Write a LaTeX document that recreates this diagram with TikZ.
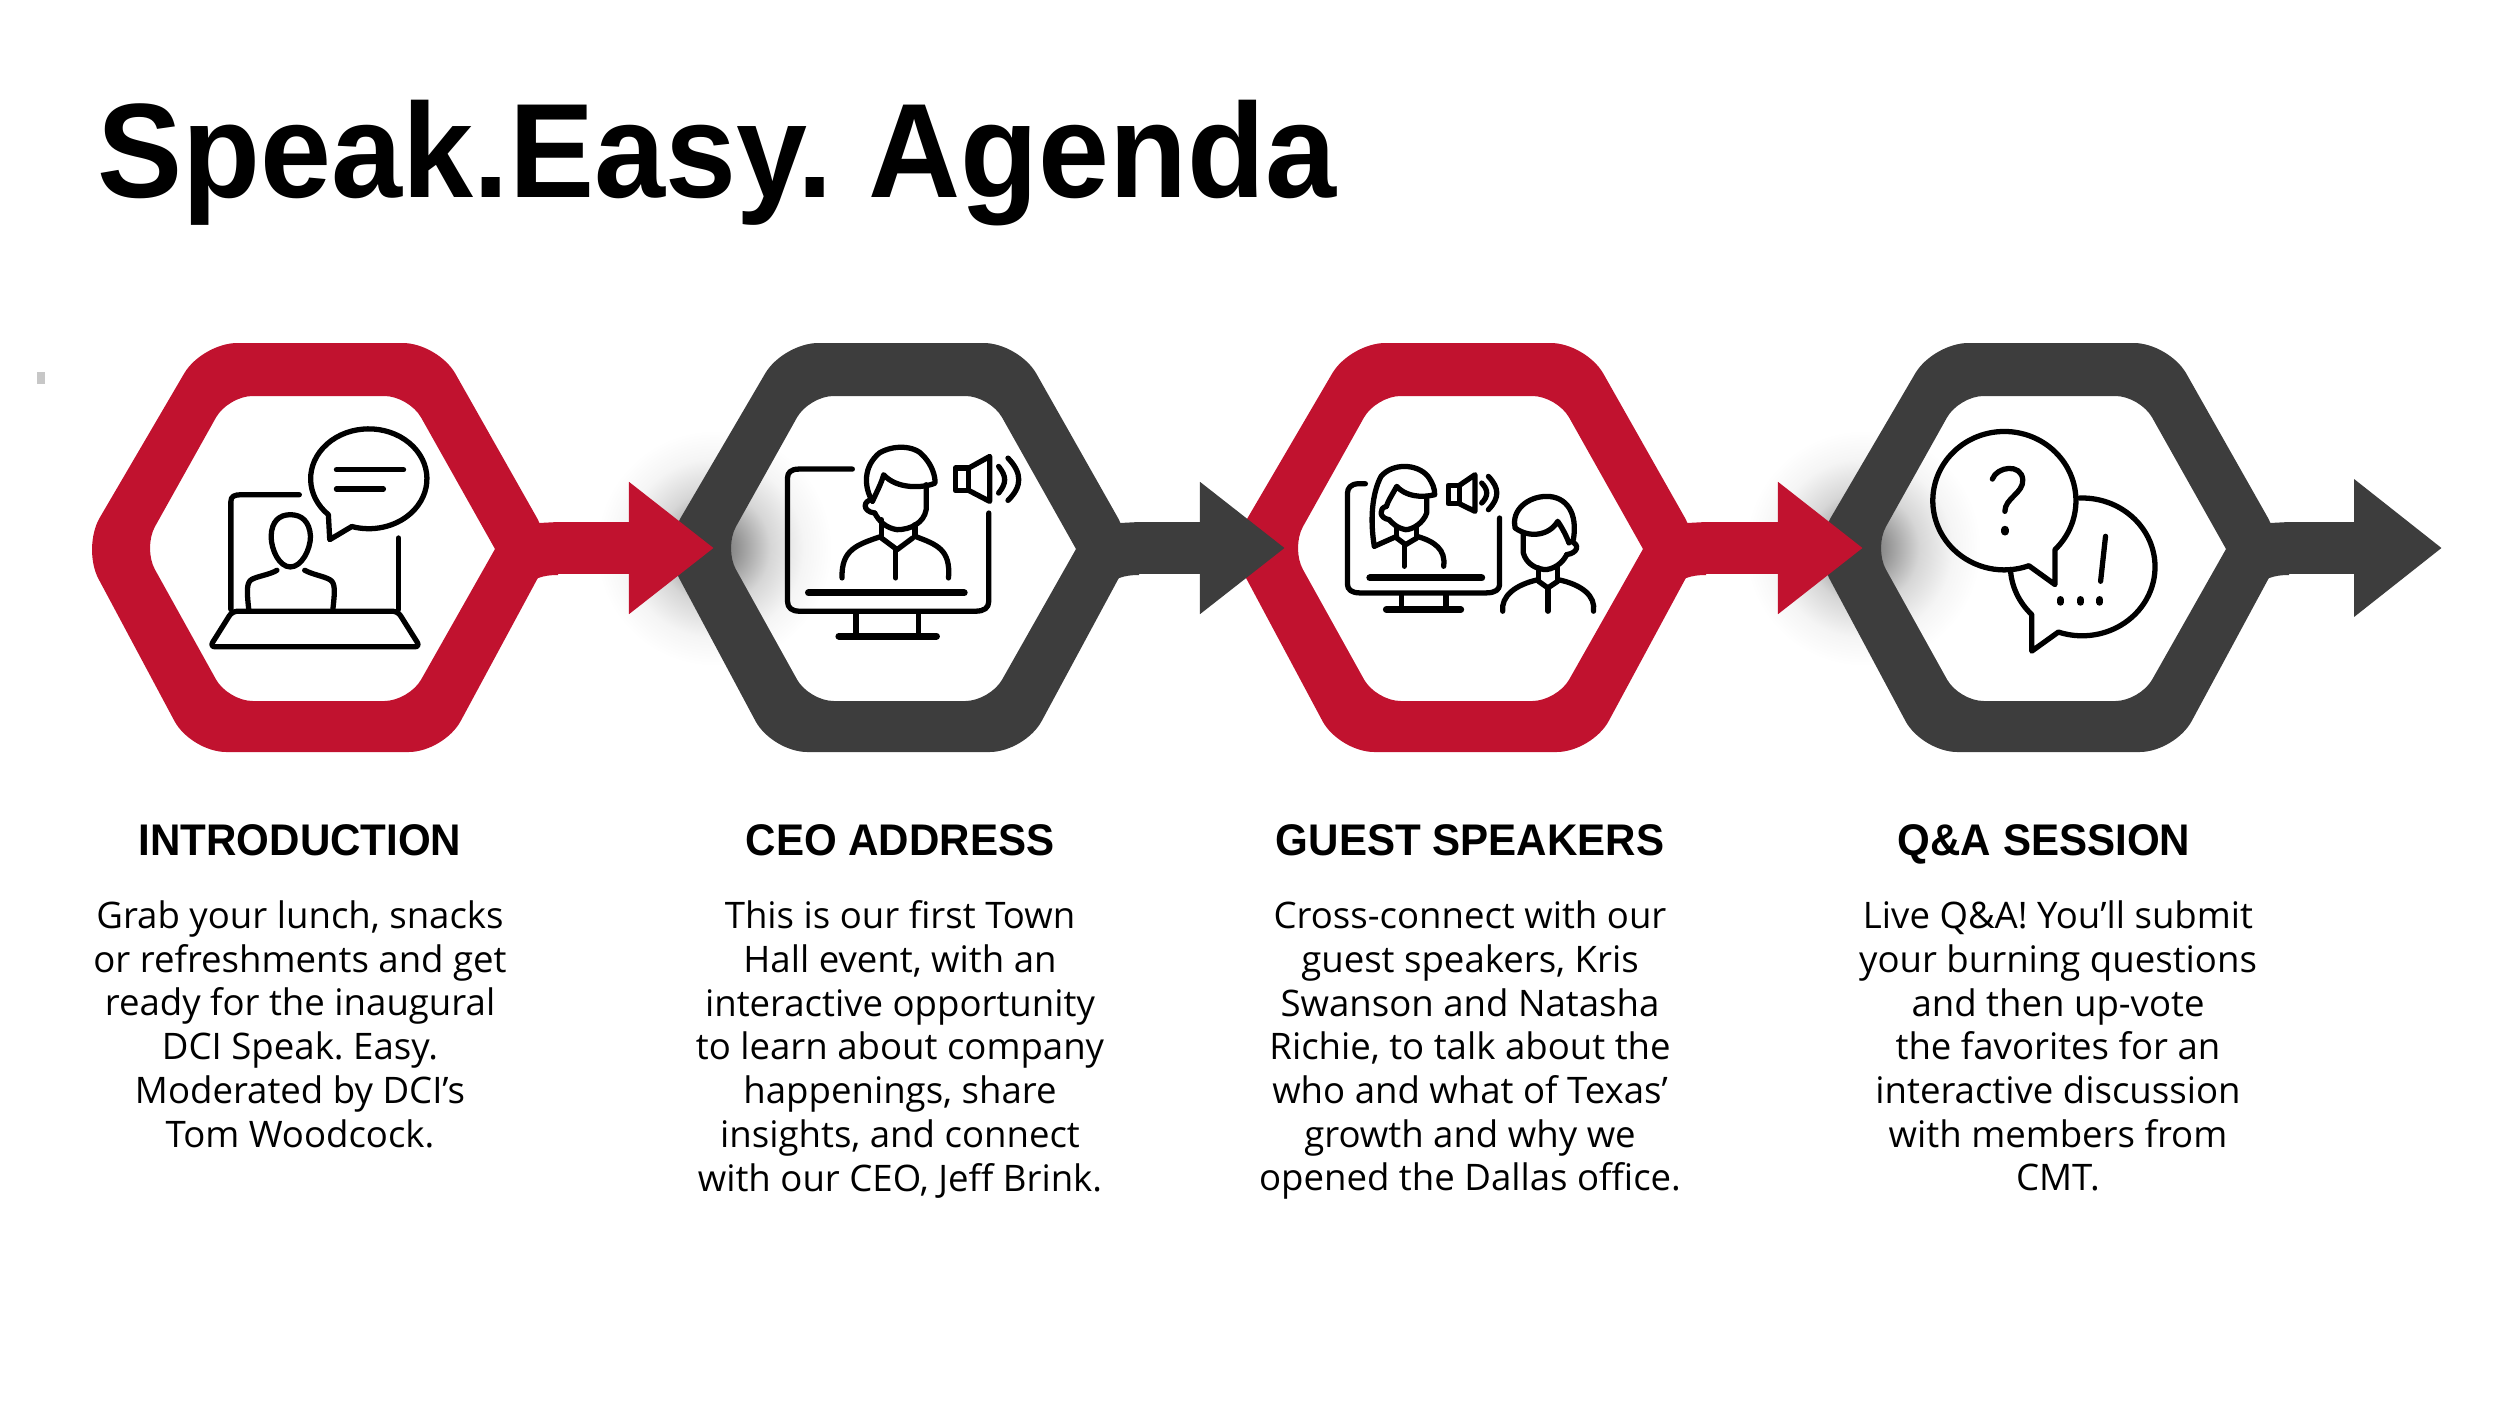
\documentclass[tikz,border=0pt]{standalone}
\usepackage{fontspec}
\usetikzlibrary{arrows.meta}
\newfontfamily\bodyfont{Open Sans}
\newfontfamily\headfont[FakeStretch=0.95]{Liberation Sans}
\definecolor{dcired}{HTML}{C1122F}
\definecolor{dcidark}{HTML}{3D3D3D}
\pgfdeclareradialshading{softglow}{\pgfpoint{0bp}{0bp}}{color(0bp)=(black!58); color(5bp)=(black!42); color(12bp)=(black!16); color(19bp)=(black!4); color(25bp)=(white); color(50bp)=(white)}
\tikzset{
  agenda_title/.style={anchor=base west,inner sep=0pt,font=\frenchspacing\headfont\bfseries\fontsize{38.2}{46}\selectfont},
  agenda_head/.style={anchor=base,inner sep=0pt,font=\headfont\bfseries\fontsize{12.6}{15}\selectfont},
  agenda_text/.style={anchor=north,inner sep=0pt,align=center,font=\frenchspacing\bodyfont\fontsize{10.4}{12.44}\selectfont},
  flow/.style={line width=15pt,-{Triangle[width=36pt,length=24.2pt]}},
  icon/.style={line width=1.5pt,line cap=round,line join=round},
  iconview/.style={shift={(#1,320)},x=0.0044643cm,y=-0.0033333cm}
}
% hexagon ring with the stub of its outgoing arrow
\newcommand{\hexring}[2]{
\begin{scope}[shift={(#1,0)}]
\fill[#2,even odd rule] (320,343) [rounded corners=10pt] -- (438,343) -- (554,548) -- (444,752) -- (191,752) -- (82,548) -- (202,343) -- cycle
 [sharp corners] (318,396) [rounded corners=7pt] -- (409,396) [sharp corners] -- (495,549) [rounded corners=7pt] -- (409,701) -- (228,701) -- (143,548) -- (228,396) -- cycle;
\fill[#2] (524,590) .. controls (532,578) and (543,575) .. (558,575) -- (558,548) -- (515,548) -- cycle;
\fill[#2] (539,523) -- (558,522) -- (558,550) -- (525,550) -- cycle;
\end{scope}
}
\begin{document}
\begin{tikzpicture}[x=0.01cm,y=-0.01cm]
\useasboundingbox (0,0) rectangle (2500,1406);
\fill[black!22] (37,372) rectangle (45,384);

\path (97,197) node(title) [agenda_title] {Speak.Easy. Agenda}
(300,855) node(intro_head) [agenda_head] {INTRODUCTION}
(900,855) node(ceo_head) [agenda_head] {CEO ADDRESS}
(1470,855) node(guest_head) [agenda_head] {GUEST SPEAKERS}
(2044,855) node(qa_head) [agenda_head] {Q\&A SESSION}
(300,900) node(intro_text) [agenda_text] {Grab your lunch, snacks\\or refreshments and get\\ready for the inaugural\\DCI Speak. Easy.\\Moderated by DCI’s\\Tom Woodcock.}
(900,900) node(ceo_text) [agenda_text] {This is our first Town\\Hall event, with an\\interactive opportunity\\to learn about company\\happenings, share\\insights, and connect\\with our CEO, Jeff Brink.}
(1470,900) node(guest_text) [agenda_text] {Cross-connect with our\\guest speakers, Kris\\Swanson and Natasha\\Richie, to talk about the\\who and what of Texas’\\growth and why we\\opened the Dallas office.}
(2058,900) node(qa_text) [agenda_text] {Live Q\&A! You’ll submit\\your burning questions\\and then up-vote\\the favorites for an\\interactive discussion\\with members from\\CMT.};

\coordinate (intro_out) at (556,548);
\coordinate (ceo_in) at (714,548);
\coordinate (ceo_out) at (1137,548);
\coordinate (guest_in) at (1285,548);
\coordinate (guest_out) at (1704,548);
\coordinate (qa_in) at (1863,548);
\coordinate (qa_out) at (2287,548);
\coordinate (finish) at (2442,548);

% soft shadows behind the red tips
\shade[shading=softglow] (ceo_in) circle (118);
\shade[shading=softglow] (qa_in) circle (118);

\hexring{0}{dcired}
\hexring{581}{dcidark}
\hexring{1148}{dcired}
\hexring{1731}{dcidark}

\draw[flow,dcired] (intro_out) -- (ceo_in);
\draw[flow,dcidark] (ceo_out) -- (guest_in);
\draw[flow,dcired] (guest_out) -- (qa_in);
\draw[flow,dcidark,-{Triangle[width=37.5pt,length=25pt]}] (qa_out) -- (finish);

% laptop with speech bubble
\begin{scope}[iconview=60,icon]
\draw (382,870) -- (382,545) .. controls (382,530) and (390,525) .. (405,525) -- (535,525);
\draw (757,655) -- (757,870);
\draw[rounded corners=1.5pt] (385,875) -- (755,875) -- (805,982) -- (335,982) -- cycle;
\draw (600,585) arc[start angle=134,end angle=467,x radius=130,y radius=150] -- (603,660) -- cycle;
\draw (618,450) -- (768,450) (618,508) -- (723,508);
\draw (515,585) .. controls (490,585) and (473,605) .. (472,650) .. controls (472,690) and (490,742) .. (515,742) .. controls (540,742) and (560,690) .. (560,650) .. controls (558,605) and (540,585) .. cycle;
\draw (485,752) .. controls (470,765) and (440,770) .. (428,780) .. controls (416,790) and (418,820) .. (422,870);
\draw (547,752) .. controls (565,765) and (590,770) .. (603,780) .. controls (617,790) and (614,820) .. (610,870);
\end{scope}

% monitor with speaker
\begin{scope}[iconview=660,icon]
\draw (430,448) -- (310,448) .. controls (293,448) and (285,458) .. (285,475) -- (285,845) .. controls (285,865) and (295,875) .. (312,875) -- (705,875) .. controls (725,875) and (735,865) .. (735,845) -- (735,580);
\draw[line width=2pt] (332,820) -- (680,820);
\draw (438,880) -- (438,950) (578,880) -- (578,950);
\draw[line width=2pt] (400,950) -- (618,950);
\draw (475,545) .. controls (455,500) and (455,440) .. (490,400) .. controls (520,375) and (570,375) .. (590,410) .. controls (610,440) and (615,470) .. (615,490) .. controls (590,505) and (530,510) .. (500,465) .. controls (495,490) and (485,515) .. (475,545);
\draw (595,495) -- (595,570) .. controls (590,610) and (560,630) .. (530,630) .. controls (505,625) and (490,605) .. (480,580);
\draw (475,540) .. controls (455,540) and (450,575) .. (480,580);
\draw (495,600) -- (495,650) (570,615) -- (570,650);
\draw (495,655) -- (530,690) -- (565,655);
\draw (495,650) .. controls (440,675) and (405,690) .. (407,775);
\draw (570,650) .. controls (620,675) and (650,690) .. (645,775);
\draw (527,690) -- (527,775);
\draw (660,445) rectangle (690,512);
\draw (690,445) -- (737,410) -- (737,545) -- (690,512);
\draw (757,440) .. controls (775,470) and (775,490) .. (757,520);
\draw (778,415) .. controls (810,460) and (810,500) .. (778,542);
\end{scope}

% two speakers
\begin{scope}[iconview=1220,icon]
\draw (325,492) -- (310,492) .. controls (293,492) and (285,505) .. (285,520) -- (285,795) .. controls (285,810) and (295,820) .. (312,820) -- (595,820) .. controls (615,820) and (625,810) .. (625,795) -- (625,595);
\draw[line width=2pt] (335,775) -- (585,775);
\draw (405,825) -- (405,870) (505,825) -- (505,870);
\draw[line width=2pt] (372,870) -- (538,870);
\draw (345,680) .. controls (335,600) and (340,520) .. (360,470) .. controls (385,430) and (440,430) .. (465,470) .. controls (475,490) and (480,505) .. (480,525) .. controls (450,535) and (415,530) .. (395,500) .. controls (385,525) and (375,545) .. (372,560);
\draw (345,680) -- (395,650);
\draw (462,530) -- (462,580) .. controls (455,610) and (430,630) .. (415,630) .. controls (395,625) and (385,610) .. (378,600);
\draw (372,560) .. controls (355,565) and (355,595) .. (378,600);
\draw (395,625) -- (395,650) (440,625) -- (440,650);
\draw (395,655) -- (415,675) -- (440,655);
\draw (440,650) .. controls (480,665) and (505,690) .. (500,740);
\draw (412,675) -- (412,740);
\draw (510,497) rectangle (535,552);
\draw (535,497) -- (570,465) -- (570,575) -- (535,552);
\draw (585,490) .. controls (600,510) and (600,530) .. (585,550);
\draw (600,470) .. controls (625,505) and (625,535) .. (600,570);
\draw (660,625) .. controls (650,570) and (690,530) .. (730,530) .. controls (775,530) and (800,580) .. (790,660);
\draw (660,625) .. controls (690,655) and (735,650) .. (755,605) .. controls (765,625) and (775,650) .. (780,670);
\draw (678,640) -- (678,700) .. controls (685,735) and (710,750) .. (730,750) .. controls (755,745) and (770,720) .. (775,705);
\draw (785,665) .. controls (805,675) and (800,700) .. (775,705);
\draw (712,745) -- (712,780) (755,740) -- (755,780);
\draw (712,785) -- (733,805) -- (755,785);
\draw (712,780) .. controls (660,795) and (628,830) .. (632,875);
\draw (755,780) .. controls (810,795) and (840,830) .. (835,875);
\draw (733,805) -- (733,875);
\end{scope}

% question and answer bubbles
\begin{scope}[iconview=1800,icon]
\draw (625,535) arc[start angle=268,end angle=469,x radius=163,y radius=207] -- (518,995) -- (518,885) arc[start angle=135,end angle=177,x radius=163,y radius=207];
\draw (570,690) arc[start angle=45,end angle=-290,x radius=160,y radius=208] -- (570,795) -- cycle;
\draw (430,478) .. controls (440,440) and (495,430) .. (498,480) .. controls (500,520) and (458,535) .. (458,575);
\draw[line width=2.2pt] (458,630) -- (458,636);
\draw (683,650) -- (672,785);
\draw[line width=2pt] (582,840) -- (582,848) (627,840) -- (627,848) (670,840) -- (670,848);
\end{scope}
\end{tikzpicture}
\end{document}
